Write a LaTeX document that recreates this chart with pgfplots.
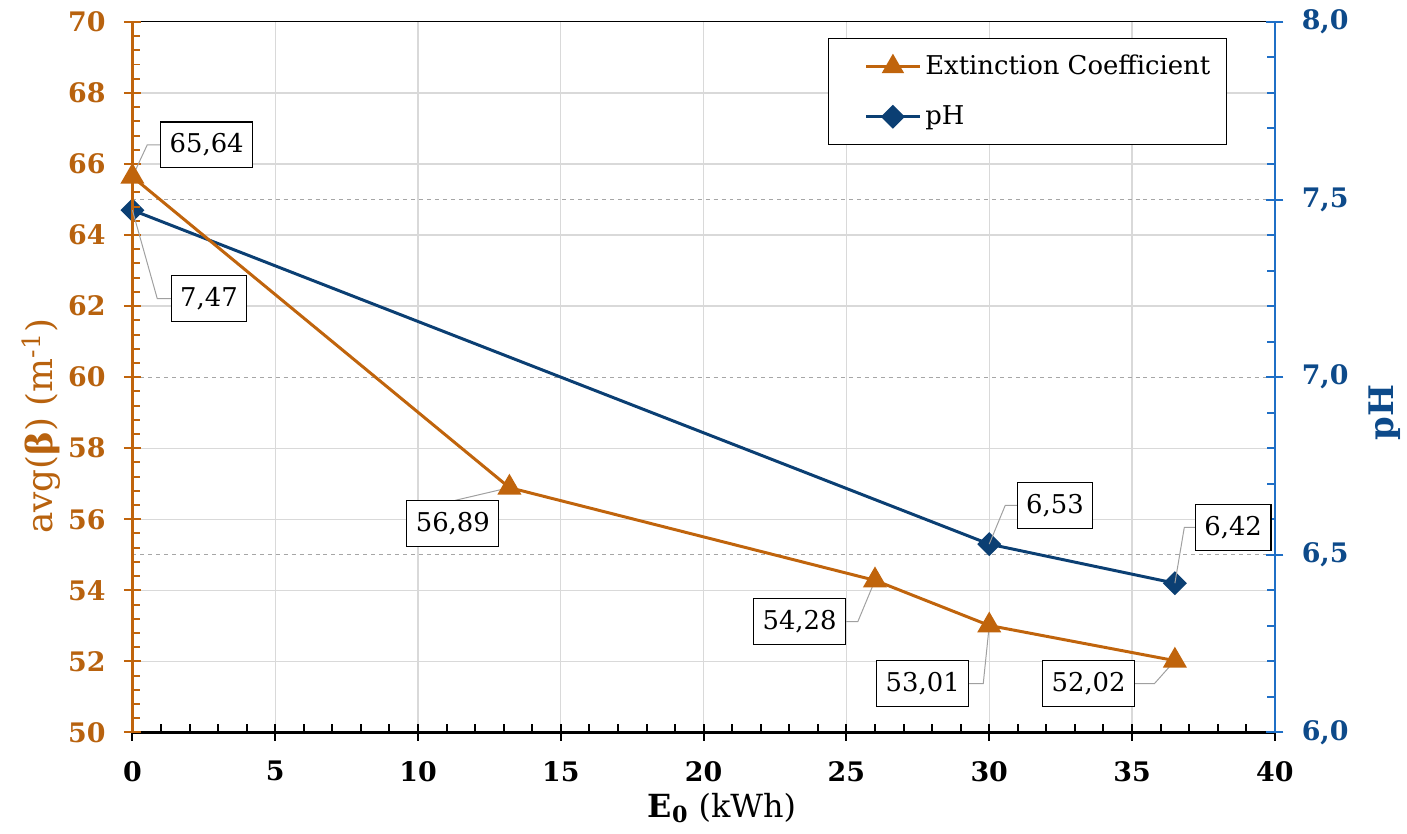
\documentclass[border=0pt]{standalone}
\usepackage{fontspec}
\setmainfont{DejaVu Serif}
\usepackage{pgfplots}
\pgfplotsset{compat=1.18}
\definecolor{ecol}{HTML}{C0640C}
\definecolor{ecoltext}{HTML}{B8620E}
\definecolor{phcol}{HTML}{0B3F73}
\definecolor{phaxis}{HTML}{1F6FC6}
\definecolor{phtext}{HTML}{0D4A8A}
\definecolor{gridgray}{HTML}{D9D9D9}
\definecolor{dashgray}{HTML}{A6A6A6}
\definecolor{leadgray}{HTML}{A0A0A0}
\pgfplotsset{
  base/.style={scale only axis, width=574pt, height=357pt,
    xmin=0, xmax=40, ymin=50, ymax=70,
    /pgf/number format/assume math mode=true,
    tick label style={font=\fontsize{13.5}{16}\selectfont\bfseries}},
}
\tikzset{
  dlab/.style={draw=black, line width=0.6pt, fill=white, font=\fontsize{13}{15}\selectfont,
    inner xsep=4.5pt, inner ysep=0pt, minimum height=23pt, anchor=center},
}
\pgfplotstableread{
x y
0 65.64
13.2 56.89
26.0 54.28
30.0 53.01
36.5 52.02
}\ext
\pgfplotstableread{
x y
0 7.47
30.0 6.53
36.5 6.42
}\ph
\begin{document}
\begin{tikzpicture}
% grid
\begin{axis}[base, axis line style={draw=none}, clip=false,
  xtick={0,5,...,40}, ytick={52,54,56,58,62,64,66,68},
  major tick length=0pt, xticklabels={}, yticklabels={},
  grid=major, grid style={gridgray, line width=0.6pt}]
\draw[dashgray, dash pattern=on 2pt off 2pt, line width=0.5pt] (axis cs:0,55) -- (axis cs:40,55);
\draw[dashgray, dash pattern=on 2pt off 2pt, line width=0.5pt] (axis cs:0,60) -- (axis cs:40,60);
\draw[dashgray, dash pattern=on 2pt off 2pt, line width=0.5pt] (axis cs:0,65) -- (axis cs:40,65);
\draw[black, line width=0.6pt] (rel axis cs:0,1) -- (rel axis cs:1,1);
\path (rel axis cs:-0.1159,-0.1429) rectangle (rel axis cs:1.1098,1.0308);
\end{axis}
% x axis
\begin{axis}[base, axis x line*=bottom, axis y line=none, ytick=\empty,
  xtick={0,5,...,40}, minor x tick num=4, tick align=inside,
  major tick length=8.5pt, minor tick length=4pt,
  every major tick/.append style={yshift=-4.25pt},
  tick style={black, line width=1pt},
  x axis line style={black, line width=1.5pt, -},
  xticklabel style={yshift=-11pt},
  xlabel={\textbf{E\textsubscript{0}} (kWh)},
  xlabel style={at={(axis description cs:0.516,-0.1064)}, anchor=center, font=\fontsize{16}{18}\selectfont}]
\end{axis}
% right pH axis
\begin{axis}[base, ymin=6, ymax=8, axis x line=none, axis y line*=right, xtick=\empty,
  ytick={6,6.5,...,8}, minor y tick num=4, tick align=inside,
  major tick length=8.5pt, minor tick length=4pt,
  every major tick/.append style={xshift=4.25pt},
  tick style={phaxis, line width=1pt},
  y axis line style={phaxis, line width=1.3pt, -},
  yticklabel={\hspace*{10pt}\pgfmathprintnumber[fixed, fixed zerofill, precision=1, use comma]{\tick}},
  yticklabel style={text=phtext},
  ylabel={\textbf{pH}},
  ylabel style={at={(axis description cs:1.096,0.45)}, anchor=center, text=phtext, font=\fontsize{17}{19}\selectfont},
  legend style={at={(0.609,0.9776)}, anchor=north west, draw=black, line width=0.6pt,
    font=\fontsize{13}{15}\selectfont, row sep=10pt, inner xsep=6pt, inner ysep=6.5pt},
  legend cell align=left,
  legend image code/.code={\path (0pt,0pt); \draw[#1, mark repeat=2, mark phase=2] plot coordinates {(12pt,0pt) (25.5pt,0pt) (39pt,0pt)};},
  ]
\addlegendimage{ecol, line width=1.5pt, mark=triangle*, mark size=5pt}
\addlegendentry{Extinction Coefficient}
\addplot[phcol, line width=1.5pt, mark=square*, mark size=3.5pt, mark options={rotate=45}] table[x=x,y=y] {\ph};
\addlegendentry{pH}
\end{axis}
% left axis + extinction
\begin{axis}[base, axis x line=none, axis y line*=left, xtick=\empty,
  ytick={50,52,...,70}, minor y tick num=4, tick align=inside,
  major tick length=8.5pt, minor tick length=4pt,
  every major tick/.append style={xshift=-4.25pt},
  tick style={ecol, line width=1pt},
  y axis line style={ecol, line width=1.5pt, -},
  yticklabel={\pgfmathprintnumber{\tick}\hspace*{10pt}},
  yticklabel style={text=ecoltext},
  ylabel={avg(\textbf{β}) (m\textsuperscript{-1})},
  ylabel style={at={(axis description cs:-0.08,0.431)}, anchor=center, text=ecoltext, font=\fontsize{18}{20}\selectfont},
  clip=false]
\addplot[ecol, line width=1.5pt, mark=triangle*, mark size=5.5pt] table[x=x,y=y] {\ext};
% leader lines
\draw[leadgray, line width=0.5pt] (axis cs:0,65.64) -- (axis cs:0.52,66.54) -- (axis cs:0.98,66.54);
\draw[leadgray, line width=0.5pt] (axis cs:0,64.7) -- (axis cs:0.87,62.21) -- (axis cs:1.36,62.21);
\draw[leadgray, line width=0.5pt] (axis cs:13.2,56.89) -- (axis cs:11.29,56.53);
\draw[leadgray, line width=0.5pt] (axis cs:26.0,54.28) -- (axis cs:25.4,53.12) -- (axis cs:24.98,53.12);
\draw[leadgray, line width=0.5pt] (axis cs:30.0,53.01) -- (axis cs:29.79,51.37) -- (axis cs:29.3,51.37);
\draw[leadgray, line width=0.5pt] (axis cs:36.5,52.02) -- (axis cs:35.78,51.37) -- (axis cs:35.1,51.37);
\draw[leadgray, line width=0.5pt] (axis cs:30.0,55.3) -- (axis cs:30.56,56.39) -- (axis cs:31.0,56.39);
\draw[leadgray, line width=0.5pt] (axis cs:36.5,54.2) -- (axis cs:36.83,55.77) -- (axis cs:37.2,55.77);
% data labels
\node[dlab] at (axis cs:2.6,66.54) {65,64};
\node[dlab] at (axis cs:2.68,62.21) {7,47};
\node[dlab] at (axis cs:11.22,55.88) {56,89};
\node[dlab] at (axis cs:23.36,53.12) {54,28};
\node[dlab] at (axis cs:27.67,51.37) {53,01};
\node[dlab] at (axis cs:33.48,51.37) {52,02};
\node[dlab] at (axis cs:32.3,56.39) {6,53};
\node[dlab] at (axis cs:38.54,55.77) {6,42};
\end{axis}
\end{tikzpicture}
\end{document}
